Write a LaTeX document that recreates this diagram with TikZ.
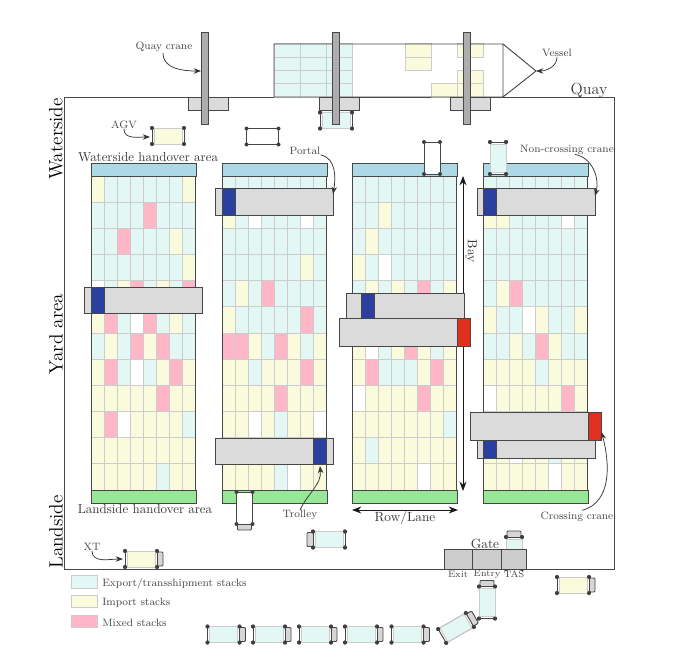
\documentclass[tikz,border=0pt]{standalone}
\usepackage{xcolor}
\usepackage{tikz}
\usetikzlibrary{arrows.meta, positioning}
\definecolor{stE}{HTML}{E3F7F5}
\definecolor{stY}{HTML}{FAFADD}
\definecolor{stP}{HTML}{FFB6C6}
\definecolor{stW}{HTML}{FFFFFF}
\definecolor{handblue}{HTML}{ADD8E6}
\definecolor{handgreen}{HTML}{98E698}
\definecolor{trolblue}{HTML}{2B3F9F}
\definecolor{trolred}{HTML}{E03020}
% vehicle parts, drawn inside the pics below
\newcommand{\vehwheels}{
  \foreach \wx/\wy in {-16/-8,16/-8,-16/8,16/8}
    \fill[black!75] (\wx,\wy) circle (1.5pt);
}
\newcommand{\vehbody}{
  \draw[frameline,fill=white] (-16,-8) rectangle (16,8);
  \vehwheels
}
\newcommand{\vehcab}{
  \draw[frameline,fill=black!16,rounded corners=.8pt] (14,-7) rectangle (22,7);
}
\newcommand{\vehbox}[1]{
  \draw[stack,fill=#1] (-14,-8) rectangle (14,8);
  \vehwheels
}
\tikzset{
  stack/.style={draw=black!20,line width=.75pt},
  frameline/.style={draw=black!72,line width=.7pt},
  handover/.style={frameline,minimum width=78.6pt,minimum height=9.8pt,inner sep=0pt},
  cranebox/.style={frameline,fill=black!14,minimum width=88.5pt,minimum height=19.7pt,inner sep=0pt},
  crossbox/.style={cranebox,minimum width=98.3pt,minimum height=21pt},
  trolley/.style={frameline,fill=trolblue,minimum width=9.8pt,minimum height=19.7pt,inner sep=0pt},
  crosstrolley/.style={trolley,fill=trolred,minimum height=21pt},
  qcbar/.style={frameline,fill=black!32,minimum width=5.6pt,minimum height=69pt,inner sep=0pt},
  qcbase/.style={frameline,fill=black!14,minimum width=30pt,minimum height=10pt,inner sep=0pt},
  gatebox/.style={frameline,fill=black!20,minimum height=15pt,inner sep=0pt},
  legendbox/.style={stack,minimum width=19.5pt,minimum height=9.5pt,inner sep=0pt},
  tinylbl/.style={font=\footnotesize,text=black!72,inner sep=0pt},
  zonelbl/.style={font=\Large,rotate=90,inner sep=0pt},
  arealbl/.style={font=\normalsize,text=black!78,inner sep=0pt},
  callout/.style={->,>=Stealth,black!80,line width=.55pt},
  dimarrow/.style={<->,>={Stealth[length=7pt]},frameline,draw=black!90},
  agvframe/.pic={\vehbody},
  xtframe/.pic={\vehcab\vehbody},
  agv/.pic={\vehbody\vehbox{#1}},
  xt/.pic={\vehcab\vehbody\vehbox{#1}},
}
% one yard block: left edge, name, twelve rows of stack colours
\newcommand{\yardblock}[3]{
  \foreach \rowcols [count=\r from 0] in {#3} {
    \foreach \c [count=\k from 0] in \rowcols {
      \draw[stack,fill=st\c] (#1+\k*13.1,176+\r*26.17) rectangle ++(13.1,26.17);
    }
  }
  \draw[frameline] (#1,176) rectangle (#1+104.8,490);
  \node[handover,fill=handblue,anchor=north west] (#2top) at (#1,163) {};
  \node[handover,fill=handgreen,anchor=north west] (#2bot) at (#1,490) {};
}

\begin{document}
\begin{tikzpicture}[x=.75pt,y=-.75pt]
  \useasboundingbox (0,0) rectangle (681,660);
  % ---- quay and vessel ----
  \draw[frameline] (64,97) rectangle (614,569);
  \foreach \sx in {274,300,326}
    \foreach \sy in {44,57.25,70.5,83.75}
      \draw[stack,fill=stE] (\sx,\sy) rectangle ++(26.2,13.25);
  \foreach \sx/\sy in {405/44,405/57.25,457/44,457/70.5,457/83.75,431/83.75}
    \draw[stack,fill=stY] (\sx,\sy) rectangle ++(26.2,13.25);
  \draw[frameline] (274,97) -- (274,44) -- (503,44) -- (536,71) -- (503,97) -- cycle (503,44) -- (503,97);
  \coordinate (bow) at (536,71);
  % ---- yard blocks ----
  \yardblock{91}{blA}{{Y,E,E,E,E,E,E,Y},{E,E,E,E,P,E,E,E},{E,E,P,E,E,E,Y,E},{E,E,E,E,E,E,E,Y},
    {W,E,Y,P,E,Y,E,P},{Y,P,E,W,P,E,Y,E},{E,Y,E,P,Y,P,E,E},{Y,P,E,W,E,Y,P,Y},
    {Y,Y,Y,Y,Y,P,Y,Y},{Y,P,W,Y,Y,Y,Y,E},{Y,Y,Y,Y,Y,Y,Y,Y},{Y,Y,Y,Y,Y,E,Y,Y}}
  \yardblock{222}{blB}{{E,E,E,E,E,E,E,E},{Y,E,W,E,E,E,W,E},{E,E,E,E,E,E,E,E},{E,E,E,E,E,E,Y,E},
    {E,Y,E,P,E,E,E,E},{Y,E,E,E,E,E,P,E},{P,P,Y,E,P,Y,E,Y},{Y,Y,E,Y,Y,Y,P,Y},
    {Y,Y,Y,Y,P,Y,Y,Y},{Y,Y,W,Y,E,Y,Y,W},{Y,Y,Y,Y,Y,Y,Y,Y},{Y,Y,Y,Y,E,W,Y,Y}}
  \yardblock{352}{blC}{{E,E,E,E,E,E,E,E},{E,E,Y,E,E,E,E,E},{E,Y,E,E,E,E,E,E},{Y,E,W,E,E,E,E,E},
    {E,Y,E,Y,E,P,E,Y},{E,E,E,E,E,E,E,E},{Y,W,E,Y,P,Y,E,Y},{Y,P,E,E,E,Y,P,Y},
    {W,Y,Y,Y,Y,P,Y,Y},{Y,Y,Y,Y,Y,Y,Y,E},{Y,E,Y,Y,Y,Y,Y,Y},{Y,Y,Y,Y,Y,W,Y,Y}}
  \yardblock{483}{blD}{{E,E,E,E,E,E,E,E},{Y,Y,E,E,E,E,W,E},{E,E,E,E,E,E,E,E},{E,E,E,E,E,E,E,E},
    {E,Y,P,E,E,E,E,E},{Y,E,E,W,Y,E,E,Y},{E,E,Y,E,P,Y,E,E},{Y,Y,Y,Y,E,Y,Y,Y},
    {W,Y,Y,Y,Y,Y,P,Y},{Y,Y,Y,Y,Y,Y,Y,Y},{Y,Y,W,Y,Y,E,Y,Y},{Y,Y,Y,Y,Y,W,Y,Y}}
  % ---- bay and row ----
  \coordinate (baytop) at (463,176);
  \coordinate (baybot) at (463,491);
  \coordinate (rowl) at (352,510);
  \coordinate (rowr) at (458,510);
  \draw[dimarrow] (baytop) -- (baybot);
  \draw[dimarrow] (rowl) -- (rowr);
  \node[arealbl,rotate=-90] (baylbl) at (471,251) {Bay};
  \node[arealbl] (rowlbl) at (405,518) {Row/Lane};
  % ---- vehicles ----
  \pic (agvA) at (168,136) {agv=stY};
  \pic (agvB) at (262.5,136.5) {agvframe};
  \pic (agvC) at (336,120.5) {agv=stE};
  \pic[rotate=90] (agvD) at (432,158) {agvframe};
  \pic[rotate=90] (agvE) at (498,158) {agv=stE};
  \pic (xtA) at (141,559) {xt=stY};
  \pic[rotate=180] (xtB) at (329,539.5) {xt=stE};
  \pic[rotate=-90] (xtC) at (244.5,508) {xtframe};
  \pic[rotate=90] (xtD) at (514,553) {xt=stE};
  \pic[rotate=90] (xtE) at (487,602.5) {xt=stE};
  \pic (xtF) at (573,585) {xt=stY};
  \pic[rotate=30] (xtG) at (456,628) {xt=stE};
  \foreach \qx [count=\qi] in {223.5,269,315,361,407.5}
    \pic (xtq\qi) at (\qx,634.5) {xt=stE};
  % ---- quay cranes ----
  \foreach \qx/\qname in {208/A,339/B,470/C} {
    \node[qcbase] (base\qname) at (\qx,104) {};
    \node[qcbar] (bar\qname) at (\qx-3,78) {};
  }
  % ---- yard cranes ----
  \node[cranebox] (craneA) at (143,300.5) {};
  \node[trolley] (trolA) at (97.5,300.5) {};
  \node[cranebox] (craneB) at (274,202) {};
  \node[trolley] (trolB) at (228.5,202) {};
  \node[cranebox] (craneC) at (274,451.5) {};
  \node[trolley] (trolC) at (319.5,451.5) {};
  \node[cranebox] (craneD) at (405,307) {};
  \node[trolley] (trolD) at (367.5,307) {};
  \node[crossbox] (crossA) at (404.5,332) {};
  \node[crosstrolley] (redA) at (463.5,332) {};
  \node[cranebox] (craneE) at (536,202) {};
  \node[trolley] (trolE) at (489.5,202) {};
  \node[cranebox] (craneF) at (536,445) {};
  \node[trolley] (trolF) at (489.5,445) {};
  \node[crossbox] (crossB) at (535.5,426) {};
  \node[crosstrolley] (redB) at (594.5,426) {};
  % ---- gate ----
  \node[gatebox,minimum width=21pt] (gateExit) at (458,559) {};
  \node[gatebox,minimum width=21.75pt] (gateEntry) at (486.5,559) {};
  \node[gatebox,minimum width=18.75pt] (gateTas) at (513.5,559) {};
  \node[arealbl] (gatelbl) at (485,544) {Gate};
  \node[tinylbl,font=\scriptsize] (exitlbl) at (458,574) {Exit};
  \node[tinylbl,font=\scriptsize] (entrylbl) at (487,574) {Entry};
  \node[tinylbl,font=\scriptsize] (taslbl) at (514,574) {TAS};
  % ---- area labels ----
  \node[zonelbl] (watlbl) at (56,139) {Waterside};
  \node[zonelbl] (yardlbl) at (56,334) {Yard area};
  \node[zonelbl] (landlbl) at (56,532) {Landside};
  \node[arealbl,font=\large] (quaylbl) at (589,90) {Quay};
  \node[arealbl,scale=.97] (wathand) at (148,157) {Waterside handover area};
  \node[arealbl,scale=.97] (landhand) at (145,509) {Landside handover area};
  % ---- callouts ----
  \node[tinylbl] (qclbl) at (164,47) {Quay crane};
  \node[tinylbl] (vessellbl) at (557,53) {Vessel};
  \node[tinylbl] (agvlbl) at (124,125) {AGV};
  \node[tinylbl] (portallbl) at (305,151) {Portal};
  \node[tinylbl] (nclbl) at (567,149.5) {Non-crossing crane};
  \node[tinylbl] (trollbl) at (300,515) {Trolley};
  \node[tinylbl] (crosslbl) at (577,516.5) {Crossing crane};
  \node[tinylbl] (xtlbl) at (92,547) {XT};
  \coordinate (qctip) at (201,71);
  \coordinate (agvtip) at (150,137);
  \coordinate (porttip) at (333,194);
  \coordinate (nctip) at (595,196);
  \coordinate (troltip) at (320,466);
  \coordinate (crosstip) at (601.5,432);
  \coordinate (xttip) at (123,559);
  \draw[callout] (qclbl.south) ++(-1,1) to[out=-90,in=180] (qctip);
  \draw[callout] (vessellbl.south) to[out=-90,in=0] (bow);
  \draw[callout] (agvlbl.south) to[out=-90,in=180] (agvtip);
  \draw[callout] (portallbl.south east) to[out=-10,in=80] (porttip);
  \draw[callout] (nclbl.south) ++(8,0) to[out=-10,in=75] (nctip);
  \draw[callout] (trollbl.north) to[out=65,in=-85] (troltip);
  \draw[callout] (crosslbl.north) ++(5,-1) to[out=15,in=-75] (crosstip);
  \draw[callout] (xtlbl.south) to[out=-90,in=180] (xttip);
  % ---- legend ----
  \node[legendbox,fill=stE] (legE) at (84,582) {};
  \node[legendbox,fill=stY] (legY) at (84,601.5) {};
  \node[legendbox,fill=stP] (legP) at (84,621.5) {};
  \node[tinylbl,anchor=west] (legElbl) at (102,584) {Export/transshipment stacks};
  \node[tinylbl,anchor=west] (legYlbl) at (102,603) {Import stacks};
  \node[tinylbl,anchor=west] (legPlbl) at (102,622.5) {Mixed stacks};
\end{tikzpicture}
\end{document}
